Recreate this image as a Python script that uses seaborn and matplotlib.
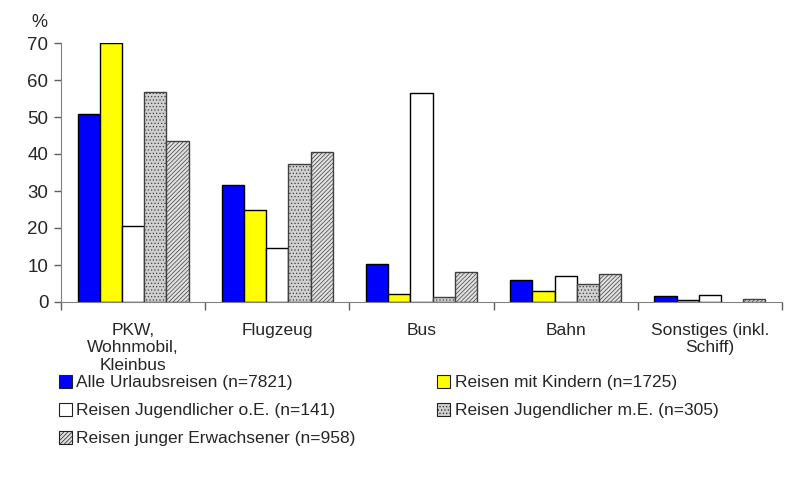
import pandas as pd
import matplotlib.pyplot as plt
import matplotlib.colors as mcolors
from matplotlib.patches import Patch
import seaborn as sns

# Data
categories = ["PKW,\nWohnmobil,\nKleinbus", "Flugzeug", "Bus", "Bahn", "Sonstiges (inkl.\nSchiff)"]
series = [
    "Alle Urlaubsreisen (n=7821)",
    "Reisen mit Kindern (n=1725)",
    "Reisen Jugendlicher o.E. (n=141)",
    "Reisen Jugendlicher m.E. (n=305)",
    "Reisen junger Erwachsener (n=958)",
]
alle = [50.9, 31.5, 10.4, 5.9, 1.6]
kinder = [69.9, 24.8, 2.1, 3.1, 0.5]
jug_oe = [20.6, 14.5, 56.4, 7.0, 1.8]
jug_me = [56.8, 37.4, 1.4, 4.8, 0.0]
junge = [43.5, 40.5, 8.0, 7.5, 0.8]

values = [alle, kinder, jug_oe, jug_me, junge]
rows = []
for s, vals in zip(series, values):
    for c, v in zip(categories, vals):
        rows.append({"Kategorie": c, "Gruppe": s, "Anteil": v})
df = pd.DataFrame(rows)

sns.set_style("white")
plt.rcParams["font.family"] = ["Liberation Sans", "DejaVu Sans"]
plt.rcParams["hatch.linewidth"] = 0.5

faces = ["#0000ff", "#ffff00", "#ffffff", "#d0d0d0", "#e0e0e0"]
hatches = [None, None, None, ".....", "////////"]
hatch_cols = ["black", "black", "black", "#808080", "#b8b8b8"]
fs = 12.5

fig = plt.figure(figsize=(7.91, 4.86), dpi=100)
ax = fig.add_axes([61 / 791, 1 - 302 / 486, (782 - 61) / 791, (302 - 43) / 486])

sns.barplot(data=df, x="Kategorie", y="Anteil", hue="Gruppe", order=categories,
            hue_order=series, palette=faces, width=0.77, gap=0, dodge=True,
            edgecolor="black", linewidth=1, legend=False, ax=ax, errorbar=None,
            saturation=1)

for i, cont in enumerate(ax.containers):
    for bar in cont:
        bar.set_facecolor(faces[i])
        if hatches[i]:
            bar.set_hatch(hatches[i])
            bar._hatch_color = mcolors.to_rgba(hatch_cols[i])
        if bar.get_height() == 0:
            bar.set_visible(False)
        if i >= 3:
            bar.set_edgecolor("#404040")

ax.set_ylim(0, 70)
ax.set_xlim(-0.5, len(categories) - 0.5)
ax.set_yticks(range(0, 71, 10))
ax.set_ylabel("")
ax.set_xlabel("")
ax.tick_params(axis="y", labelsize=13.5, length=5, width=1, direction="out", left=True, pad=4)
ax.set_xticks([x + 0.5 for x in range(-1, len(categories))], minor=True)
ax.tick_params(axis="x", which="minor", length=6, width=1, direction="out", bottom=True)
ax.tick_params(axis="x", which="major", length=0, labelsize=fs, pad=15)
for s in ["top", "right"]:
    ax.spines[s].set_visible(False)
ax.spines["left"].set_color("#808080")
ax.spines["bottom"].set_color("#808080")
ax.tick_params(axis="both", which="both", color="#606060")
ax.text(-0.019, 1.06, "%", transform=ax.transAxes, ha="right", fontsize=13)

# legend, reordered so that rows read left to right
handles = []
for i, s in enumerate(series):
    handles.append(Patch(facecolor=faces[i], edgecolor="#202020", hatch=hatches[i],
                         linewidth=0.8, label=s))
order = [0, 2, 4, 1, 3]
leg = fig.legend([handles[k] for k in order], [series[k] for k in order],
                 ncol=2, loc="upper left", bbox_to_anchor=(59 / 791, 1 - 375 / 486),
                 frameon=False, fontsize=fs, handlelength=0.75, handleheight=0.75,
                 handletextpad=0.25, columnspacing=4.7, labelspacing=0.72,
                 borderaxespad=0, borderpad=0)

fig.savefig("out.png", dpi=100)
